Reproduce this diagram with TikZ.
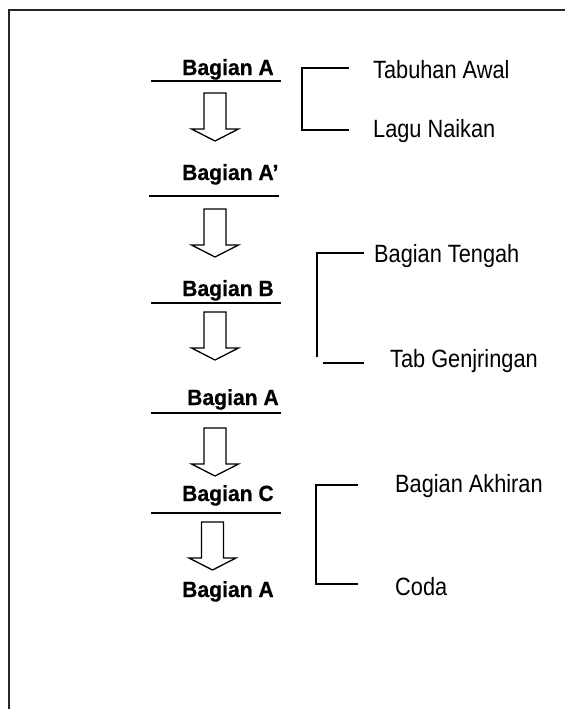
\documentclass[tikz,border=0pt]{standalone}
\usepackage{fontspec}
\setmainfont{Liberation Sans}
\newfontfamily\labelfont[FakeStretch=0.87]{Liberation Sans}
\newfontfamily\partfont[FakeBold=0.6,FakeStretch=0.96]{Liberation Sans Bold}
\begin{document}
\begin{tikzpicture}[x=1pt,y=-1pt,
  part/.style={anchor=base west,inner sep=0pt,font=\partfont\fontsize{22}{26}\selectfont},
  note/.style={anchor=base west,inner sep=0pt,font=\labelfont\fontsize{25}{30}\selectfont},
  rule/.style={line width=1.5pt},
  bracket/.style={line width=1.4pt},
  arrowline/.style={line width=1.3pt,line join=miter},
  downarr/.pic={\draw[arrowline] (-11,0) -- (11,0) -- (11,36) -- (23.5,36)
                 -- (0,48) -- (-23.5,36) -- (-11,36) -- cycle;}]
\useasboundingbox (0,0) rectangle (565,709);

% outer frame, open to the right and bottom
\draw[line width=2pt,black!85] (8.5,709) -- (8.5,10) -- (565,10);

% sequence of parts
\node[part] (pA1) at (182,75)  {Bagian A};
\node[part] (pA2) at (182,180) {Bagian A’};
\node[part] (pB)  at (182,296) {Bagian B};
\node[part] (pA3) at (187,405) {Bagian A};
\node[part] (pC)  at (182,501) {Bagian C};
\node[part] (pA4) at (182,597) {Bagian A};

% rules under the part names
\draw[rule] (151,81)  -- (281,81);
\draw[rule] (149,196) -- (279,196);
\draw[rule] (151,303) -- (281,303);
\draw[rule] (151,413) -- (281,413);
\draw[rule] (151,513) -- (281,513);

% block arrows between parts
\pic at (215,93)    {downarr};
\pic at (215,209)   {downarr};
\pic at (215,312)   {downarr};
\pic at (215,428)   {downarr};
\pic at (212.5,522) {downarr};

% side notes
\node[note] (n1) at (373,78)  {Tabuhan Awal};
\node[note] (n2) at (373,137) {Lagu Naikan};
\node[note] (n3) at (374,262) {Bagian Tengah};
\node[note] (n4) at (390,367) {Tab Genjringan};
\node[note] (n5) at (395,492) {Bagian Akhiran};
\node[note] (n6) at (395,595) {Coda};

% brackets grouping the notes
\coordinate (b1t) at (349,68);  \coordinate (b1b) at (349,130);
\draw[bracket] (b1t) -- (302,68) -- (302,130) -- (b1b);

\coordinate (b2t) at (364,253); \coordinate (b2b) at (364,363);
\draw[bracket] (b2t) -- (317,253) -- (317,357);
\draw[bracket] (323,363) -- (b2b);

\coordinate (b3t) at (358,485); \coordinate (b3b) at (358,584);
\draw[bracket] (b3t) -- (316,485) -- (316,584) -- (b3b);
\end{tikzpicture}
\end{document}
